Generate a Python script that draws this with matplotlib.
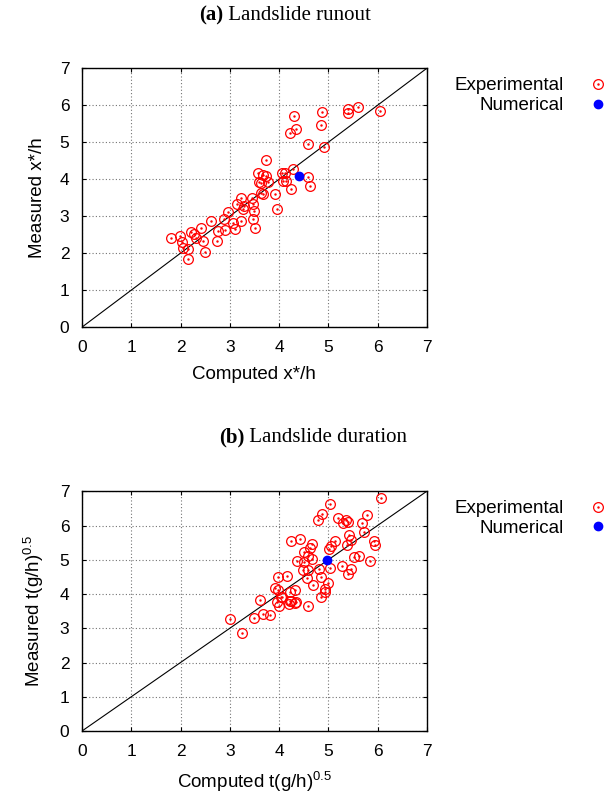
import matplotlib
matplotlib.use("Agg")
import matplotlib.pyplot as plt
from matplotlib.lines import Line2D
from matplotlib.legend_handler import HandlerTuple
from matplotlib.offsetbox import TextArea, HPacker, AnchoredOffsetbox

plt.rcParams['font.family'] = ['Liberation Sans', 'DejaVu Sans']
plt.rcParams['mathtext.default'] = 'regular'

# (a) runout: computed vs measured x*/h
runout_computed = [1.81, 1.98, 2.03, 2.06, 2.15, 2.15, 2.22, 2.28, 2.32, 2.42,
                   2.45, 2.49, 2.62, 2.74, 2.76, 2.88, 2.91, 2.97, 3.06, 3.11,
                   3.22, 3.15, 3.22, 3.26, 3.28, 3.45, 3.47, 3.49, 3.47, 3.52,
                   3.57, 3.60, 3.64, 3.67, 3.67, 3.74, 3.64, 3.78, 3.73, 3.92,
                   3.96, 4.07, 4.09, 4.24, 4.28, 4.30, 4.23, 4.35, 4.87, 4.85,
                   4.59, 4.92, 5.39, 5.41, 5.60, 6.05, 4.12, 4.15, 4.59, 4.63]
runout_measured = [2.41, 2.47, 2.29, 2.13, 2.11, 1.84, 2.56, 2.51, 2.42, 2.69,
                   2.33, 2.04, 2.87, 2.33, 2.60, 2.92, 2.63, 3.10, 2.81, 2.65,
                   2.86, 3.32, 3.50, 3.19, 3.28, 3.49, 3.32, 3.14, 2.92, 2.69,
                   4.16, 3.93, 3.64, 3.59, 4.11, 4.09, 3.91, 3.93, 4.53, 3.59,
                   3.19, 4.18, 3.95, 3.73, 4.27, 5.71, 5.26, 5.35, 5.82, 5.46,
                   4.96, 4.88, 5.91, 5.80, 5.96, 5.84, 4.18, 3.95, 4.05, 3.82]
runout_num = (4.41, 4.09)

# (b) duration: computed vs measured t(g/h)^0.5
duration_computed = [4.88, 4.80, 4.24, 4.42, 4.66, 4.63, 4.51, 4.58, 4.36, 4.51,
                     4.66, 4.49, 4.59, 4.56, 4.69, 3.98, 4.16, 3.91, 3.97, 4.05,
                     4.22, 4.32, 4.25, 4.20, 4.32, 3.99, 3.61, 4.58, 4.86, 6.07,
                     5.03, 5.19, 5.35, 5.40, 5.30, 5.79, 5.68, 5.73, 5.43, 5.47,
                     5.37, 5.93, 5.94, 5.13, 5.05, 5.02, 5.52, 5.63, 5.85, 5.27,
                     5.03, 5.47, 5.40, 4.81, 4.85, 5.00, 4.93, 3.01, 3.24, 3.50,
                     3.68, 3.81, 3.95, 4.06, 4.22, 4.35, 4.93]
duration_measured = [6.35, 6.17, 5.54, 5.61, 5.47, 5.34, 5.22, 5.10, 4.96, 4.92,
                     5.02, 4.71, 4.69, 4.46, 4.26, 4.49, 4.53, 4.17, 4.12, 3.92,
                     4.07, 4.12, 3.80, 3.70, 3.75, 3.64, 3.82, 3.65, 3.92, 6.81,
                     6.62, 6.23, 6.15, 6.10, 6.06, 6.32, 6.08, 5.81, 5.71, 5.57,
                     5.44, 5.54, 5.42, 5.54, 5.39, 5.31, 5.08, 5.10, 4.95, 4.82,
                     4.75, 4.73, 4.59, 4.73, 4.51, 4.31, 4.14, 3.26, 2.85, 3.29,
                     3.42, 3.40, 3.78, 3.90, 3.81, 3.78, 4.07]
duration_num = (4.97, 5.00)

ticks = [0, 1, 2, 3, 4, 5, 6, 7]


def panel(fig, rect, comp, meas, num, xlabel, ylabel):
    ax = fig.add_axes(rect)
    ax.plot([0, 7], [0, 7], color='black', lw=0.8, zorder=2)
    ax.plot(comp, meas, 'o', ms=7, mfc='none', mec='#ff0000', mew=0.9, zorder=3)
    ax.plot(comp, meas, '.', ms=1.5, color='#ff0000', zorder=3)
    ax.plot([num[0]], [num[1]], 'o', ms=6, color='#0000ff', zorder=4)
    ax.set_xlim(0, 7)
    ax.set_ylim(0, 7)
    ax.set_xticks(ticks)
    ax.set_yticks(ticks)
    ax.grid(True, color='0.45', ls=(0, (1, 2)), lw=0.8)
    ax.tick_params(direction='in', length=3, width=0.8, top=True, right=True,
                   labelsize=12.5, pad=9)
    for s in ax.spines.values():
        s.set_linewidth(1.0)
    ax.set_xlabel(xlabel, fontsize=13.5, labelpad=8)
    ax.set_ylabel(ylabel, fontsize=13.5, labelpad=10)

    exp_h = (Line2D([], [], ls='none', marker='o', ms=7, mfc='none',
                    mec='#ff0000', mew=0.9),
             Line2D([], [], ls='none', marker='.', ms=1.5, color='#ff0000'))
    num_h = Line2D([], [], ls='none', marker='o', ms=6, color='#0000ff')
    top = rect[1] + rect[3]
    fig.legend([exp_h, num_h], ['Experimental', 'Numerical'],
               handler_map={tuple: HandlerTuple(ndivide=1)},
               loc='upper right', bbox_to_anchor=(1.0, top - 0.011),
               frameon=False, markerfirst=False, fontsize=13.5,
               handlelength=0.7, handletextpad=1.5, labelspacing=0.15,
               borderpad=0, borderaxespad=0)
    return ax


def title(fig, tag, text, x, y):
    parts = HPacker(children=[
        TextArea(tag, textprops=dict(family='Liberation Serif',
                                     weight='bold', size=15)),
        TextArea(' ' + text, textprops=dict(family='Liberation Serif', size=15)),
    ], pad=0, sep=0, align='baseline')
    box = AnchoredOffsetbox(loc='center left', child=parts, frameon=False,
                            bbox_to_anchor=(x, y),
                            bbox_transform=fig.transFigure, pad=0, borderpad=0)
    fig.add_artist(box)


fig = plt.figure(figsize=(6.05, 7.94), dpi=100)

panel(fig, [0.1355, 0.588, 0.570, 0.326], runout_computed, runout_measured,
      runout_num, 'Computed x*/h', 'Measured x*/h')
panel(fig, [0.1355, 0.0793, 0.570, 0.302], duration_computed, duration_measured,
      duration_num, r'Computed t(g/h)$^{0.5}$', r'Measured t(g/h)$^{0.5}$')

title(fig, '(a)', 'Landslide runout', 199 / 605, 1 - 15 / 794)
title(fig, '(b)', 'Landslide duration', 219 / 605, 1 - 437 / 794)

fig.savefig('out.png', dpi=100)
